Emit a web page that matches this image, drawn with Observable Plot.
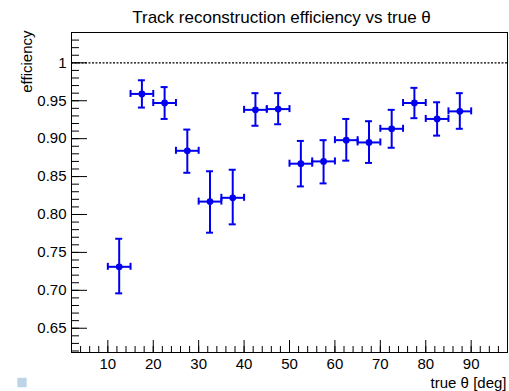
<!DOCTYPE html>
<html>
<head>
<meta charset="utf-8">
<script src="https://cdn.jsdelivr.net/npm/d3@7"></script>
<script src="https://cdn.jsdelivr.net/npm/@observablehq/plot@0.6"></script>
<style>
  html, body { margin: 0; padding: 0; background: #fff; }
  #chart { width: 509px; height: 391px; }
</style>
</head>
<body>
<div id="chart"></div>
<script>
// ---- data ----
const thetaCenters = [12.5, 17.5, 22.5, 27.5, 32.5, 37.5, 42.5, 47.5, 52.5, 57.5, 62.5, 67.5, 72.5, 77.5, 82.5, 87.5];
const binHalfWidth = 2.5;
const efficiency = [0.731, 0.959, 0.947, 0.884, 0.817, 0.822, 0.938, 0.939, 0.867, 0.870, 0.898, 0.895, 0.913, 0.947, 0.926, 0.936];
const effLow     = [0.696, 0.941, 0.926, 0.855, 0.776, 0.787, 0.917, 0.919, 0.837, 0.841, 0.871, 0.868, 0.888, 0.927, 0.904, 0.913];
const effHigh    = [0.768, 0.977, 0.968, 0.912, 0.857, 0.859, 0.960, 0.960, 0.897, 0.898, 0.926, 0.923, 0.938, 0.967, 0.948, 0.960];

const xTickValues = [10, 20, 30, 40, 50, 60, 70, 80, 90];
const xTickLabels = ["10", "20", "30", "40", "50", "60", "70", "80", "90"];
const yTickValues = [1, 0.95, 0.90, 0.85, 0.80, 0.75, 0.70, 0.65];
const yTickLabels = ["1", "0.95", "0.90", "0.85", "0.80", "0.75", "0.70", "0.65"];
const xMinorTicks = d3.range(2, 98.01, 2);
const yMinorTicks = d3.range(62, 104.5, 1).map(v => v / 100);

const titleText = "Track reconstruction efficiency vs true θ";
const xLabel = "true θ [deg]";
const yLabel = "efficiency";

// ---- table built from the arrays ----
const points = thetaCenters.map((x, i) => ({
  x, y: efficiency[i], lo: effLow[i], hi: effHigh[i],
  xl: x - binHalfWidth, xr: x + binHalfWidth
}));

const W = 509, H = 391;
const mL = 71, mR = 2, mT = 32, mB = 39;
const frameH = H - mT - mB;
const frameW = W - mL - mR;
const blue = "#0000ee";
const font = "'Liberation Sans', Arial, Helvetica, sans-serif";

const chart = Plot.plot({
  width: W,
  height: H,
  marginLeft: mL, marginRight: mR, marginTop: mT, marginBottom: mB,
  style: { fontFamily: font, background: "#fff", color: "#000" },
  x: { domain: [2, 98], axis: null },
  y: { domain: [0.618, 1.04], axis: null },
  marks: [
    // dotted reference line at 1
    Plot.ruleY([1], { stroke: "#000", strokeWidth: 1.2, strokeDasharray: "2,1.5" }),
    // x ticks (inside the frame, from the bottom)
    Plot.ruleX(xMinorTicks, { x: d => d, insetTop: frameH - 6, stroke: "#000", strokeWidth: 1 }),
    Plot.ruleX(xTickValues, { x: d => d, insetTop: frameH - 12, stroke: "#000", strokeWidth: 1 }),
    // y ticks (inside the frame, from the left)
    Plot.ruleY(yMinorTicks, { y: d => d, insetRight: frameW - 8, stroke: "#000", strokeWidth: 1 }),
    Plot.ruleY(yTickValues, { y: d => d, insetRight: frameW - 16, stroke: "#000", strokeWidth: 1 }),
    Plot.frame({ stroke: "#000", strokeWidth: 1 }),
    // tick labels
    Plot.text(xTickValues, { x: d => d, text: (d, i) => xTickLabels[i], frameAnchor: "bottom", dy: 16, lineAnchor: "bottom", fontSize: 15, fill: "#000" }),
    Plot.text(yTickValues, { y: d => d, text: (d, i) => yTickLabels[i], frameAnchor: "left", dx: -5, textAnchor: "end", lineAnchor: "middle", fontSize: 15, fill: "#000" }),
    // error bars
    Plot.ruleX(points, { x: "x", y1: "lo", y2: "hi", stroke: blue, strokeWidth: 2 }),
    Plot.ruleY(points, { y: "y", x1: "xl", x2: "xr", stroke: blue, strokeWidth: 2 }),
    // caps
    Plot.ruleY(points, { y: "lo", x1: "x", x2: "x", insetLeft: -3.5, insetRight: -3.5, stroke: blue, strokeWidth: 2 }),
    Plot.ruleY(points, { y: "hi", x1: "x", x2: "x", insetLeft: -3.5, insetRight: -3.5, stroke: blue, strokeWidth: 2 }),
    Plot.ruleX(points, { x: "xl", y1: "y", y2: "y", insetTop: -3.5, insetBottom: -3.5, stroke: blue, strokeWidth: 2 }),
    Plot.ruleX(points, { x: "xr", y1: "y", y2: "y", insetTop: -3.5, insetBottom: -3.5, stroke: blue, strokeWidth: 2 }),
    // markers
    Plot.dot(points, { x: "x", y: "y", r: 3.4, fill: blue, stroke: "none" }),
    // title and axis titles
    Plot.text([titleText], { text: d => d, frameAnchor: "top", dx: -8, dy: -10, lineAnchor: "bottom", fontSize: 17, fill: "#000" }),
    Plot.text([xLabel], { text: d => d, frameAnchor: "bottom-right", dx: -1, dy: 35, textAnchor: "end", lineAnchor: "bottom", fontSize: 15, fill: "#000" }),
    Plot.text([yLabel], { text: d => d, frameAnchor: "top-left", dx: -40, dy: -2, rotate: -90, textAnchor: "end", lineAnchor: "bottom", fontSize: 15, fill: "#000" }),
    // small square marker at bottom-left
    Plot.dot([0], { frameAnchor: "bottom-left", dx: -49.5, dy: 30, symbol: "square", r: 5.3, fill: "#bcd3e8", stroke: "none" })
  ]
});

document.getElementById("chart").appendChild(chart);
</script>
</body>
</html>
